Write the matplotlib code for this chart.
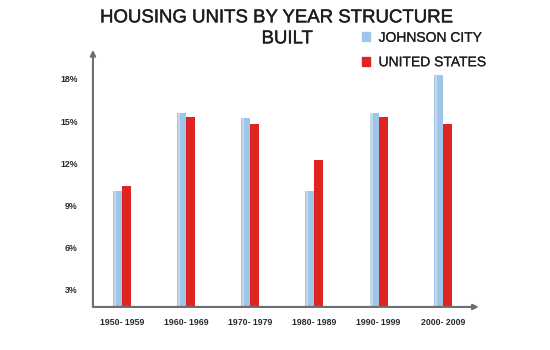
import matplotlib.pyplot as plt
import numpy as np
from matplotlib.patches import Patch
import matplotlib.patheffects as pe

plt.rcParams['font.family'] = ['Liberation Sans', 'DejaVu Sans']

periods = ['1950- 1959', '1960- 1969', '1970- 1979', '1980- 1989', '1990- 1999', '2000- 2009']
johnson_city = [10.0, 15.6, 15.2, 10.0, 15.6, 18.3]
united_states = [10.4, 15.3, 14.8, 12.2, 15.3, 14.8]
yticks = [3, 6, 9, 12, 15, 18]
ytick_labels = ['3%', '6%', '9%', '12%', '15%', '18%']

blue = '#9fc5e8'
red = '#e02424'
axis_gray = '#6e6e6e'
text_dark = '#1e1e1e'

fig = plt.figure(figsize=(5.5, 3.5), dpi=100)
ax = fig.add_axes([0.169, 0.123, 0.698, 0.720])

x = np.arange(len(periods))
w = 0.14
bottom = 1.79
jc = np.array(johnson_city)
us = np.array(united_states)
ax.bar(x - w / 2, jc - bottom, w, bottom=bottom, color=blue, edgecolor='none')
ax.bar(x + w / 2, us - bottom, w, bottom=bottom, color=red, edgecolor='none')
# light stripe on the blue bars for the glassy look
ax.bar(x - w / 2 - w * 0.3, jc - bottom, w * 0.25, bottom=bottom, color='#c4d8ee', edgecolor='none')

ax.set_xlim(-0.45, 5.53)
ax.set_ylim(bottom, 19.7)
ax.set_xticks(x)
ax.set_xticklabels(periods, fontsize=6.3, fontweight='bold', color='#2a2a2a')
ax.set_yticks(yticks)
ax.set_yticklabels(ytick_labels, fontsize=6.3, fontweight='bold', color='#2a2a2a')
ax.tick_params(axis='both', length=0)
ax.tick_params(axis='x', pad=8)
ax.tick_params(axis='y', pad=11)

for s in ['top', 'right', 'left', 'bottom']:
    ax.spines[s].set_visible(False)

# axis lines with arrow heads
ax.annotate('', xy=(0, 1.02), xytext=(0, 0), xycoords='axes fraction',
            arrowprops=dict(arrowstyle='-|>', color=axis_gray, lw=1.5,
                            mutation_scale=8, shrinkA=0, shrinkB=0), annotation_clip=False)
ax.annotate('', xy=(1.005, 0), xytext=(0, 0), xycoords='axes fraction',
            arrowprops=dict(arrowstyle='-|>', color=axis_gray, lw=1.5,
                            mutation_scale=8, shrinkA=0, shrinkB=0), annotation_clip=False)

stroke = [pe.withStroke(linewidth=0.3, foreground=text_dark)]
fig.text(0.502, 0.949, 'HOUSING UNITS BY YEAR STRUCTURE', ha='center', va='center',
         fontsize=13.4, color=text_dark, path_effects=stroke)
fig.text(0.522, 0.889, 'BUILT', ha='center', va='center', fontsize=13.4,
         color=text_dark, path_effects=stroke)

handles = [Patch(color=blue), Patch(color=red)]
leg = fig.legend(handles, ['JOHNSON CITY', 'UNITED STATES'], loc='upper left',
                 bbox_to_anchor=(0.658, 0.912), frameon=False, fontsize=10,
                 handlelength=0.6, handleheight=0.6, handletextpad=0.6,
                 labelspacing=0.75, borderaxespad=0, borderpad=0)
for t in leg.get_texts():
    t.set_color(text_dark)
    t.set_path_effects([pe.withStroke(linewidth=0.15, foreground=text_dark)])

fig.savefig('out.png', dpi=100)
